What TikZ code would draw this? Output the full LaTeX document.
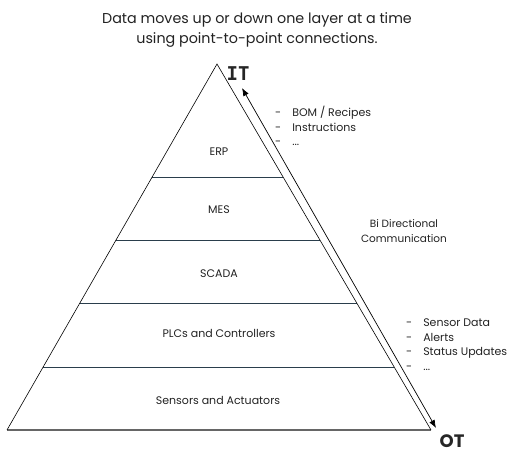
\documentclass[tikz,border=0pt]{standalone}
\usepackage{fontspec}
\setmainfont{Poppins}
\newfontfamily\itfont{DejaVu Sans Mono}
\usetikzlibrary{calc,arrows.meta}
\definecolor{txt}{HTML}{222222}
\definecolor{layer}{HTML}{2A3E4C}
\tikzset{
  lbl/.style={font=\fontsize{11}{12}\selectfont, text=txt, inner sep=0pt},
  lst/.style={font=\fontsize{11}{14.5}\selectfont, text=txt, inner sep=0pt, align=left, anchor=north west},
  sepline/.style={draw=layer, line width=0.9pt},
  edge/.style={draw=black, line width=0.6pt},
}
\begin{document}
\begin{tikzpicture}[x=1pt,y=-1pt]
\useasboundingbox (0,0) rectangle (512,454);
\coordinate (apex) at (217,64);
\coordinate (bl) at (7,430);
\coordinate (br) at (431,430);
% layer separators
\foreach \t in {0.3106,0.4823,0.654,0.8283}{
  \draw[sepline] ($(apex)!\t!(bl)$) -- ($(apex)!\t!(br)$);
}
\draw[draw=gray!80!black, line width=1.2pt] (bl) -- (br);
\draw[edge] (bl) -- (apex) -- (br);
% arrow
\coordinate (atop) at (242,88);
\coordinate (abot) at (436,428);
\draw[line width=0.7pt, {Latex[length=8pt,width=6pt]}-{Latex[length=8pt,width=6pt]}] (atop) -- (abot);
% title
\node[font=\fontsize{14.3}{20}\selectfont, text=txt, align=center] (title) at (257,30) {Data moves up or down one layer at a time\\using point-to-point connections.};
% layer labels
\node[lbl] (erp) at (219,152) {ERP};
\node[lbl] (mes) at (219,210) {MES};
\node[lbl] (scada) at (219,274) {SCADA};
\node[lbl] (plc) at (219,333) {PLCs and Controllers};
\node[lbl] (sens) at (218,400) {Sensors and Actuators};
% IT / OT
\node[font=\itfont\bfseries\fontsize{19}{20}\selectfont, text=black!85, inner sep=0pt] (it) at (238,74) {IT};
\node[font=\bfseries\fontsize{18}{20}\selectfont, text=black!85, inner sep=0pt] (ot) at (452,441) {OT};
% lists
\node[lst] (l1) at (275,106) {-\hspace{11pt}BOM / Recipes\\-\hspace{11pt}Instructions\\-\hspace{11pt}...};
\node[lst] (l2) at (406,319) {-\hspace{11pt}Sensor Data\\-\hspace{11pt}Alerts\\-\hspace{11pt}Status Updates\\-\hspace{11pt}...};
\node[font=\fontsize{10.5}{15}\selectfont, text=txt, align=center] (bi) at (404,231) {Bi Directional\\Communication};
\end{tikzpicture}
\end{document}
